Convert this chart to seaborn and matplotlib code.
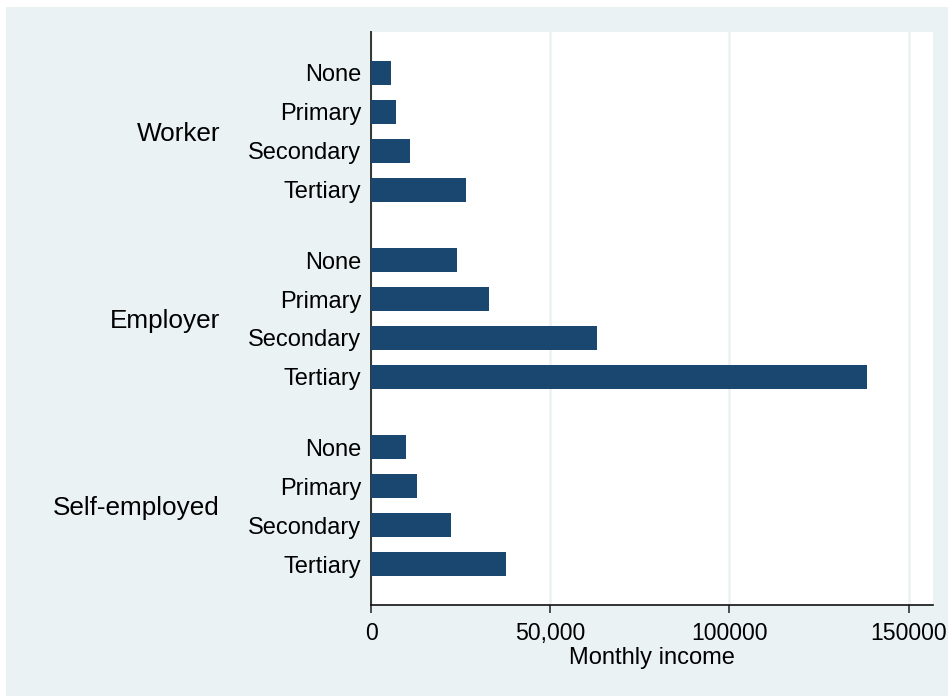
import matplotlib
matplotlib.use("Agg")
import matplotlib.pyplot as plt
import matplotlib.patches as mpatches
import matplotlib.transforms as mtransforms
import pandas as pd
import seaborn as sns

# data
groups = ["Worker", "Employer", "Self-employed"]
education = ["None", "Primary", "Secondary", "Tertiary"]
worker_income = [5700, 7100, 11000, 26500]
employer_income = [24100, 32900, 63000, 138500]
selfemp_income = [9900, 12700, 22300, 37600]
x_ticks = [0, 50000, 100000, 150000]
x_tick_labels = ["0", "50,000", "100000", "150000"]

BAR_COLOR = "#1a476f"
BG_COLOR = "#eaf2f3"
GROUP_GAP = 0.8

sns.set_theme(style="white")
plt.rcParams["font.family"] = ["Liberation Sans", "DejaVu Sans"]
plt.rcParams["text.color"] = "black"
plt.rcParams["axes.labelcolor"] = "black"
plt.rcParams["xtick.color"] = "black"
plt.rcParams["ytick.color"] = "black"

rows = []
for g_idx, (grp, vals) in enumerate(zip(groups, [worker_income, employer_income, selfemp_income])):
    for e_idx, (edu, val) in enumerate(zip(education, vals)):
        rows.append({
            "group": grp,
            "education": edu,
            "income": val,
            "pos": g_idx * (len(education) + GROUP_GAP) + e_idx,
        })
df = pd.DataFrame(rows)

fig = plt.figure(figsize=(9.48, 6.96), dpi=100, facecolor="white")
fig.patches.append(mpatches.Rectangle((6 / 948, 0), 1, 1 - 7 / 696, transform=fig.transFigure,
                                      facecolor=BG_COLOR, edgecolor="none", zorder=-10))
ax = fig.add_axes([371 / 948, 91 / 696, 562 / 948, 573 / 696])
ax.set_facecolor("white")

sns.barplot(data=df, x="income", y="pos", orient="h", native_scale=True, width=0.61,
            color=BAR_COLOR, saturation=1, edgecolor="none", ax=ax, zorder=3)

ax.set_xlim(0, 156800)
ax.set_ylim(df["pos"].max() + 1.05, -1.05)

ax.set_xticks(x_ticks)
ax.set_xticklabels(x_tick_labels, fontsize=16.6)
ax.set_yticks(df["pos"])
ax.set_yticklabels(df["education"], fontsize=17)
ax.tick_params(axis="y", length=0, pad=7, labelcolor="black")
ax.tick_params(axis="x", length=6, width=1.1, color="#222222", pad=6, direction="out",
               bottom=True, labelcolor="black")

ax.xaxis.grid(True, color=BG_COLOR, linewidth=1.8, zorder=0)
ax.yaxis.grid(False)
ax.set_axisbelow(True)

for side in ["top", "right"]:
    ax.spines[side].set_visible(False)
ax.spines["left"].set_color("#333333")
ax.spines["left"].set_linewidth(1.4)
ax.spines["bottom"].set_color("#111111")
ax.spines["bottom"].set_linewidth(1.2)

ax.set_xlabel("Monthly income", fontsize=17, labelpad=2, color="black")
ax.set_ylabel("")

# group labels: baseline placed so the capitals sit centred on the group
trans = mtransforms.blended_transform_factory(ax.transAxes, ax.transData)
trans = trans + mtransforms.ScaledTranslation(0, -9.3 / 100, fig.dpi_scale_trans)
for grp in groups:
    center = df.loc[df["group"] == grp, "pos"].mean()
    ax.text(-151 / 562, center, grp, transform=trans, ha="right", va="baseline",
            fontsize=18.8, color="black")

fig.savefig("out.png", dpi=100, facecolor="white")
